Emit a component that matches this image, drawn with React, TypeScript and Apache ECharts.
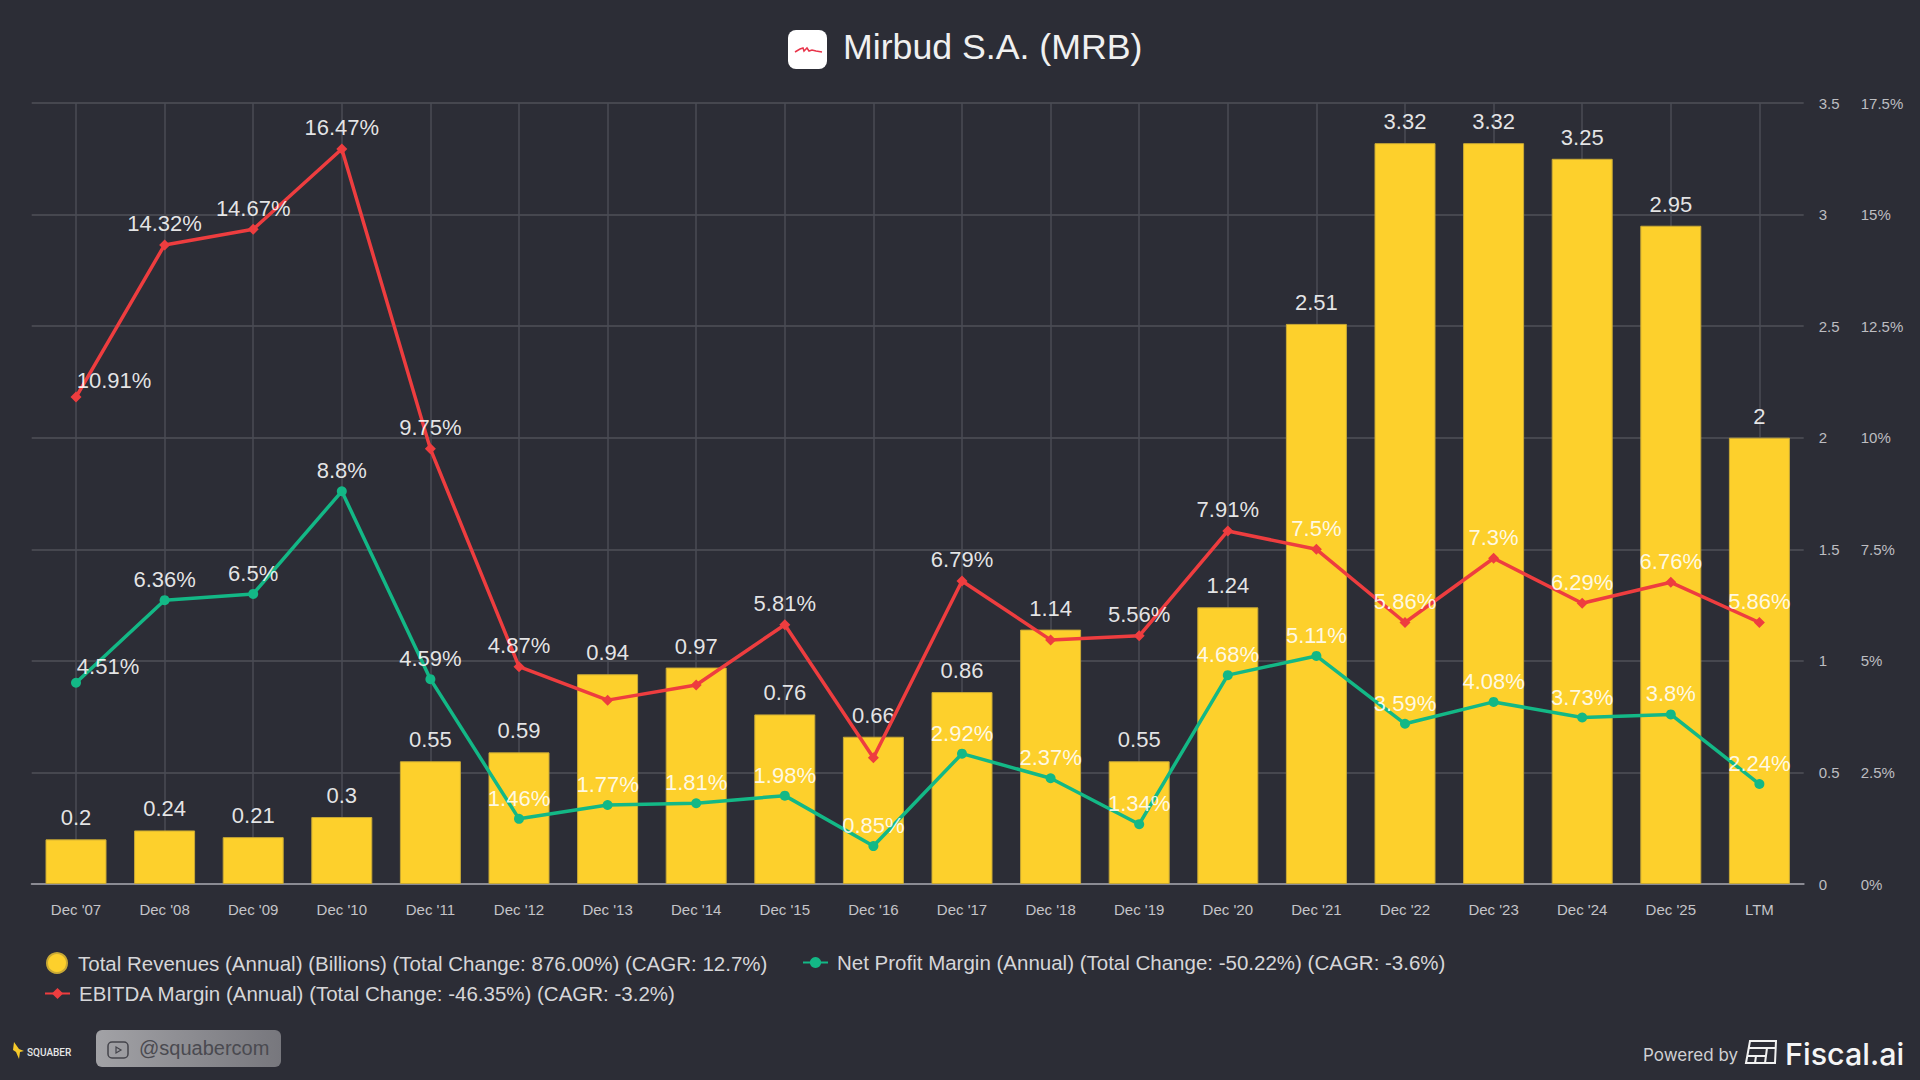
import React, { useEffect, useRef } from "react";
import * as echarts from "echarts";

const categories = ["Dec '07", "Dec '08", "Dec '09", "Dec '10", "Dec '11", "Dec '12", "Dec '13", "Dec '14", "Dec '15", "Dec '16", "Dec '17", "Dec '18", "Dec '19", "Dec '20", "Dec '21", "Dec '22", "Dec '23", "Dec '24", "Dec '25", "LTM"];
const revenues = [0.2, 0.24, 0.21, 0.3, 0.55, 0.59, 0.94, 0.97, 0.76, 0.66, 0.86, 1.14, 0.55, 1.24, 2.51, 3.32, 3.32, 3.25, 2.95, 2];
const ebitdaMargin = [10.91, 14.32, 14.67, 16.47, 9.75, 4.87, 4.12, 4.46, 5.81, 2.83, 6.79, 5.47, 5.56, 7.91, 7.5, 5.86, 7.3, 6.29, 6.76, 5.86];
const netMargin = [4.51, 6.36, 6.5, 8.8, 4.59, 1.46, 1.77, 1.81, 1.98, 0.85, 2.92, 2.37, 1.34, 4.68, 5.11, 3.59, 4.08, 3.73, 3.8, 2.24];
const ebitdaHiddenLabels = [6, 7, 9, 11];

const revenueName = "Total Revenues (Annual) (Billions) (Total Change: 876.00%) (CAGR: 12.7%)";
const netName = "Net Profit Margin (Annual) (Total Change: -50.22%) (CAGR: -3.6%)";
const ebitdaName = "EBITDA Margin (Annual) (Total Change: -46.35%) (CAGR: -3.2%)";

const FONT = "'Liberation Sans', Arial, sans-serif";
const BG = "#2c2d36";
const LABEL = "rgba(255,255,255,0.88)";
const LABEL_SIZE = 22;

function pctLabel(p: any) {
  return p.value + "%";
}

export default function App() {
  const ref = useRef<HTMLDivElement>(null);
  useEffect(() => {
    document.body.style.margin = "0";
    const chart = echarts.init(ref.current!, null, { renderer: "svg" });
    const legendBase = { orient: "horizontal" as const, textStyle: { fontFamily: FONT, fontSize: 20.5, color: "#d6d6d9" } };
    chart.setOption({
      animation: false,
      backgroundColor: BG,
      textStyle: { fontFamily: FONT },
      grid: { left: 31.7, right: 116.3, top: 103, bottom: 196, containLabel: false },
      legend: [
        { ...legendBase, left: 41, top: 947, itemWidth: 20, itemHeight: 20, data: [{ name: revenueName, icon: "circle" }], textStyle: { ...legendBase.textStyle, padding: [0, 0, 0, 6] } },
        { ...legendBase, left: 797, top: 947, itemWidth: 25, itemHeight: 14, data: [netName], textStyle: { ...legendBase.textStyle, padding: [0, 0, 0, 4] } },
        { ...legendBase, left: 39, top: 978, itemWidth: 25, itemHeight: 14, data: [ebitdaName], textStyle: { ...legendBase.textStyle, padding: [0, 0, 0, 4] } },
      ],
      xAxis: {
        type: "category",
        data: categories,
        axisLine: { lineStyle: { color: "#8b8b93", width: 2 } },
        axisTick: { alignWithLabel: true, length: 15, lineStyle: { color: "#3f4049", width: 1.5 } },
        axisLabel: { color: "#c4c4c8", fontSize: 15, margin: 18, fontFamily: FONT, interval: 0 },
        splitLine: { show: true, alignWithLabel: true, lineStyle: { color: "#4a4b54", width: 1.5 } },
      },
      yAxis: [
        {
          type: "value", position: "right", min: 0, max: 3.5, interval: 0.5,
          axisLine: { show: false }, axisTick: { show: false },
          axisLabel: { color: "#bdbdc1", fontSize: 15, margin: 15, fontFamily: FONT },
          splitLine: { show: true, lineStyle: { color: "#4f5059", width: 1.5 } },
        },
        {
          type: "value", position: "right", offset: 42, min: 0, max: 17.5, interval: 2.5,
          axisLine: { show: false }, axisTick: { show: false },
          axisLabel: { color: "#bdbdc1", fontSize: 15, margin: 15, fontFamily: FONT, formatter: "{value}%" },
          splitLine: { show: false },
        },
      ],
      series: [
        {
          name: revenueName, type: "bar", yAxisIndex: 0, barWidth: 61, data: revenues, z: 2,
          itemStyle: { color: "#fdd02c", borderColor: "#c9a935", borderWidth: 1 },
          label: { show: true, position: "top", distance: 10.5, color: LABEL, fontSize: LABEL_SIZE, fontFamily: FONT },
        },
        {
          name: netName, type: "line", yAxisIndex: 1, z: 4, symbol: "circle", symbolSize: 10,
          lineStyle: { color: "#13b886", width: 3.5 }, itemStyle: { color: "#13b886" },
          label: { show: true, position: "top", distance: 4.5, color: LABEL, fontSize: LABEL_SIZE, fontFamily: FONT, formatter: pctLabel },
          data: netMargin.map((v, i) => (i === 0 ? { value: v, label: { offset: [32, 4] } } : v)),
        },
        {
          name: ebitdaName, type: "line", yAxisIndex: 1, z: 3, symbol: "diamond", symbolSize: 11,
          lineStyle: { color: "#ee3d3f", width: 3.5 }, itemStyle: { color: "#ee3d3f" },
          label: { show: true, position: "top", distance: 4.5, color: LABEL, fontSize: LABEL_SIZE, fontFamily: FONT, formatter: pctLabel },
          data: ebitdaMargin.map((v, i) =>
            i === 0 ? { value: v, label: { offset: [38, 4] } }
            : ebitdaHiddenLabels.includes(i) ? { value: v, label: { show: false } }
            : v),
        },
      ],
      graphic: [
        { type: "rect", shape: { x: 788, y: 30, width: 39, height: 39, r: 8 }, style: { fill: "#ffffff" } },
        { type: "polyline", shape: { points: [[795, 52], [800, 49], [803, 48], [804, 51], [807, 48], [809, 51], [812, 50], [816, 51], [822, 52]] }, style: { stroke: "#e8344a", lineWidth: 1.5, fill: "none" } },
        { type: "text", x: 843, y: 47, style: { text: "Mirbud S.A. (MRB)", fill: "#f0f0f0", fontFamily: FONT, fontSize: 35.7, verticalAlign: "middle" } },

        { type: "polygon", shape: { points: [[14, 1042], [19, 1049], [24, 1051], [20, 1052], [19, 1059], [16, 1052], [13, 1050]] }, style: { fill: "#f5c92a" } },
        { type: "text", x: 27, y: 1052, style: { text: "SQUABER", fill: "#e6e6e6", fontFamily: "Roboto", fontWeight: 500, fontSize: 10, verticalAlign: "middle" } },
        {
          type: "rect", shape: { x: 96, y: 1030, width: 185, height: 37, r: 6 },
          style: { fill: new echarts.graphic.LinearGradient(0, 0, 1, 0, [{ offset: 0, color: "#a2a2a6" }, { offset: 1, color: "#77777d" }]) },
        },
        { type: "rect", shape: { x: 108, y: 1042, width: 20, height: 16, r: 4 }, style: { fill: "none", stroke: "#44444b", lineWidth: 1.5 } },
        { type: "polygon", shape: { points: [[116, 1047], [121, 1050], [116, 1053]] }, style: { fill: "none", stroke: "#44444b", lineWidth: 1.2 } },
        { type: "text", x: 139, y: 1048, style: { text: "@squabercom", fill: "#4a4a50", fontFamily: FONT, fontSize: 20, verticalAlign: "middle" } },

        { type: "text", x: 1643, y: 1055, style: { text: "Powered by", fill: "#d0d0d3", fontFamily: "Inter", fontSize: 17, verticalAlign: "middle" } },
        { type: "polygon", shape: { points: [[1750, 1041], [1776, 1041], [1775, 1063], [1746, 1063]] }, style: { fill: "none", stroke: "#f2f2f2", lineWidth: 2 } },
        { type: "line", shape: { x1: 1749, y1: 1048, x2: 1776, y2: 1048 }, style: { stroke: "#f2f2f2", lineWidth: 2 } },
        { type: "line", shape: { x1: 1747, y1: 1056, x2: 1766, y2: 1056 }, style: { stroke: "#f2f2f2", lineWidth: 2 } },
        { type: "line", shape: { x1: 1767, y1: 1048, x2: 1765, y2: 1063 }, style: { stroke: "#f2f2f2", lineWidth: 2 } },
        { type: "line", shape: { x1: 1756, y1: 1056, x2: 1755, y2: 1063 }, style: { stroke: "#f2f2f2", lineWidth: 2 } },
        { type: "text", x: 1785, y: 1053, style: { text: "Fiscal.ai", fill: "#f5f5f5", fontFamily: "Inter", fontWeight: 500, fontSize: 30.5, verticalAlign: "middle" } },
      ],
    });
    return () => chart.dispose();
  }, []);
  return <div ref={ref} style={{ position: "fixed", left: 0, top: 0, width: 1920, height: 1080 }} />;
}
